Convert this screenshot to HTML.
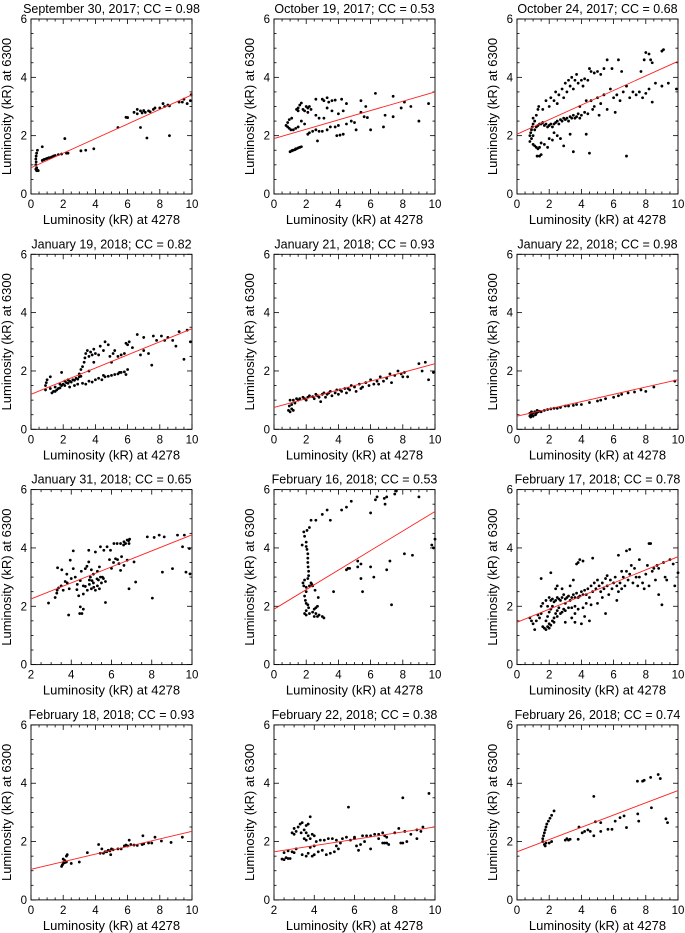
<!DOCTYPE html>
<html><head><meta charset="utf-8">
<style>
html,body{margin:0;padding:0;background:#fff;}
svg{display:block;font-family:"Liberation Sans",Arial,sans-serif;}
</style></head>
<body>
<svg id="fig" width="685" height="933" viewBox="0 0 685 933" xmlns="http://www.w3.org/2000/svg"></svg>
<script>
const titles = ["September 30, 2017; CC = 0.98","October 19, 2017; CC = 0.53","October 24, 2017; CC = 0.68",
"January 19, 2018; CC = 0.82","January 21, 2018; CC = 0.93","January 22, 2018; CC = 0.98",
"January 31, 2018; CC = 0.65","February 16, 2018; CC = 0.53","February 17, 2018; CC = 0.78",
"February 18, 2018; CC = 0.93","February 22, 2018; CC = 0.38","February 26, 2018; CC = 0.74"];
const xMins = [0,0,0,0,0,0,2,0,0,0,2,0];
const xMax = 10;
const yMax = 6;
const xTicks = [[0,2,4,6,8,10],[2,4,6,8,10]];
const yTicks = [0,2,4,6];
const fitStartY = [0.9,1.9,2.05,1.2,0.75,0.45,2.25,1.9,1.45,1.05,1.65,1.65];
const fitEndY = [3.4,3.5,4.55,3.45,2.25,1.7,4.45,5.25,3.7,2.35,2.5,3.75];

const sep30 = [[0.35,0.8],[0.3,0.85],[0.35,0.9],[0.3,1.0],[0.32,1.1],[0.3,1.2],[0.32,1.3],[0.35,1.4],[0.4,1.5],[0.4,0.82],[0.45,0.8],[0.7,1.62],[0.7,1.15],[0.8,1.18],[0.9,1.2],[1.0,1.22],[1.1,1.24],[1.2,1.25],[1.3,1.27],[1.4,1.3],[1.5,1.32],[1.7,1.35],[1.9,1.37],[2.1,1.9],[2.2,1.4],[2.3,1.4],[3.1,1.48],[3.4,1.5],[3.9,1.55],[5.4,2.28],[5.9,2.63],[6.0,2.62],[6.4,2.8],[6.6,2.75],[6.6,2.9],[6.8,2.85],[6.8,2.28],[6.9,2.78],[7.0,2.86],[7.1,2.8],[7.2,1.92],[7.3,2.85],[7.4,2.82],[7.6,2.9],[7.7,2.95],[8.0,2.95],[8.2,3.1],[8.3,3.0],[8.5,3.05],[8.6,2.0],[8.6,3.02],[9.2,3.15],[9.4,3.15],[9.5,3.25],[9.7,3.1],[9.9,3.2],[9.95,3.4]];
const oct19 = [[1.0,1.45],[1.1,1.48],[1.2,1.5],[1.3,1.52],[1.4,1.55],[1.5,1.58],[1.6,1.6],[1.7,1.62],[1.15,1.5],[1.35,1.55],[0.75,2.35],[0.85,2.3],[0.95,2.25],[1.05,2.2],[1.2,2.2],[1.35,2.25],[1.5,2.3],[0.85,2.45],[0.95,2.55],[1.1,2.6],[1.7,2.5],[1.9,2.4],[1.4,2.9],[1.5,2.95],[1.6,3.05],[1.7,3.12],[1.5,2.85],[1.8,2.9],[1.9,2.85],[2.0,3.0],[2.1,2.95],[2.2,3.0],[2.3,2.9],[2.1,2.8],[2.6,3.25],[3.0,3.25],[3.1,3.2],[3.3,3.3],[3.4,3.15],[3.6,3.2],[3.8,3.22],[4.2,3.25],[4.5,3.1],[2.6,2.7],[2.8,2.6],[3.1,2.6],[3.3,2.95],[3.6,2.85],[4.0,2.75],[4.3,2.85],[2.1,2.05],[2.2,2.1],[2.4,2.15],[2.6,2.2],[2.8,2.15],[2.7,1.82],[3.0,2.15],[3.3,2.2],[3.5,2.3],[3.8,2.3],[3.9,2.0],[4.0,2.35],[4.1,2.02],[4.3,2.05],[4.5,2.4],[4.8,2.5],[5.0,2.45],[5.1,2.2],[5.4,2.8],[5.6,2.65],[5.7,3.0],[5.8,2.62],[5.4,3.2],[6.0,2.2],[6.3,3.45],[6.8,2.3],[6.9,2.7],[7.4,2.65],[7.4,3.35],[7.9,2.95],[8.1,3.15],[8.5,3.0],[9.0,2.5],[9.6,3.1]];
const oct24 = [[0.8,1.8],[0.8,2.0],[0.85,2.1],[0.9,1.9],[0.9,2.2],[0.95,2.3],[1.0,2.4],[1.0,2.0],[1.0,1.7],[1.1,1.65],[1.2,1.6],[1.3,1.55],[1.4,1.6],[1.0,2.6],[1.1,2.5],[1.2,2.7],[1.3,2.9],[1.35,3.0],[1.25,1.3],[1.4,1.3],[1.5,1.35],[1.5,1.75],[1.7,1.7],[1.9,1.6],[1.1,2.2],[1.2,2.3],[1.3,2.35],[1.4,2.4],[1.5,2.4],[1.6,2.45],[1.7,2.35],[1.8,2.4],[1.9,2.3],[2.0,2.35],[2.1,2.4],[2.2,2.3],[2.3,2.4],[2.4,2.45],[2.5,2.5],[2.6,2.4],[2.7,2.55],[2.8,2.5],[2.9,2.6],[3.0,2.55],[3.1,2.6],[3.2,2.5],[3.3,2.65],[3.4,2.6],[3.5,2.7],[3.6,2.6],[3.7,2.65],[3.8,2.75],[3.9,2.6],[4.0,2.7],[4.2,2.8],[4.4,2.75],[2.0,1.9],[2.2,1.85],[2.3,2.1],[2.5,2.0],[2.7,1.9],[2.9,1.65],[3.3,2.05],[4.3,2.05],[4.5,1.4],[3.5,1.45],[1.6,2.9],[1.8,3.2],[2.0,3.0],[2.1,3.3],[2.3,3.2],[2.4,3.5],[2.5,3.1],[2.6,3.4],[2.8,3.6],[2.9,3.3],[3.0,3.8],[3.1,3.5],[3.2,3.9],[3.3,3.7],[3.4,4.0],[3.5,3.6],[3.6,3.9],[3.7,4.1],[3.8,3.8],[4.0,3.9],[4.1,3.7],[4.2,3.95],[4.4,3.9],[4.5,4.3],[4.6,4.2],[4.8,4.15],[5.0,4.2],[5.2,4.1],[5.4,4.3],[5.6,4.6],[5.9,4.3],[6.3,4.6],[6.5,4.2],[7.7,4.2],[7.9,4.6],[8.0,4.85],[8.2,4.8],[8.3,4.6],[8.4,4.5],[9.0,4.9],[9.1,4.95],[4.6,3.2],[4.8,3.0],[5.0,3.3],[5.2,3.1],[5.4,3.4],[5.6,2.9],[5.8,3.6],[6.0,3.3],[6.2,3.4],[6.4,3.2],[6.6,3.5],[6.8,3.7],[7.0,3.3],[7.2,3.5],[7.4,3.4],[7.6,3.5],[7.8,3.3],[8.0,3.45],[8.2,3.6],[8.4,3.15],[8.6,3.8],[9.0,3.7],[9.4,3.8],[9.9,3.6],[6.8,1.3],[4.7,2.9],[5.1,2.7],[6.1,2.8],[3.9,3.0],[4.3,3.2]];
const jan19 = [[0.9,1.35],[0.9,1.5],[0.95,1.6],[1.0,1.7],[1.2,1.8],[1.3,1.25],[1.4,1.3],[1.5,1.3],[1.6,1.35],[1.7,1.4],[1.8,1.42],[1.9,1.5],[2.0,1.55],[2.1,1.5],[2.2,1.6],[2.3,1.58],[2.4,1.65],[2.5,1.62],[2.6,1.7],[2.7,1.68],[2.8,1.75],[2.9,1.72],[3.0,1.8],[3.1,1.82],[1.2,1.4],[1.5,1.45],[1.8,1.55],[2.1,1.65],[2.3,1.7],[1.9,1.95],[2.4,1.45],[2.7,1.5],[2.9,1.55],[3.2,1.58],[3.4,1.55],[3.6,1.65],[3.8,1.62],[4.0,1.7],[4.2,1.75],[4.4,1.7],[4.6,1.8],[4.8,1.82],[5.0,1.85],[5.2,1.88],[5.4,1.9],[5.6,1.95],[5.8,1.97],[5.9,1.88],[6.0,2.05],[5.5,1.95],[4.5,1.85],[3.0,1.9],[3.1,2.05],[3.2,2.15],[3.3,2.3],[3.35,2.45],[3.4,2.6],[3.5,2.7],[3.6,2.5],[3.7,2.65],[3.8,2.55],[3.9,2.75],[4.0,2.6],[4.2,2.55],[4.3,2.85],[4.5,2.7],[4.6,3.0],[4.8,2.9],[4.9,2.5],[5.0,2.3],[5.1,2.6],[5.2,2.7],[5.4,2.5],[5.6,2.55],[5.8,2.6],[3.9,2.3],[3.6,2.0],[5.9,2.95],[6.1,3.0],[6.3,2.8],[6.6,3.25],[6.8,2.55],[7.0,3.15],[7.0,2.7],[7.3,2.6],[7.5,2.2],[7.6,3.2],[7.8,3.05],[8.3,3.05],[8.5,3.15],[8.8,3.05],[9.0,2.85],[9.2,3.35],[9.5,2.4],[9.7,3.4],[9.9,3.0],[8.1,3.2],[6.0,2.9]];
const jan21 = [[0.9,0.65],[1.0,0.6],[1.1,0.7],[1.2,0.65],[0.95,0.8],[1.1,0.85],[1.0,1.0],[1.2,1.0],[1.3,0.9],[1.5,1.0],[1.6,1.05],[1.8,1.1],[2.0,1.0],[2.1,1.1],[2.2,1.15],[2.4,1.12],[2.5,1.05],[2.6,1.2],[2.8,1.1],[2.9,0.95],[3.0,1.2],[3.1,1.25],[3.2,1.1],[3.3,1.2],[3.5,1.3],[3.6,1.15],[3.8,1.25],[3.9,1.35],[4.0,1.2],[4.2,1.3],[4.4,1.4],[4.5,1.25],[4.7,1.35],[4.8,1.5],[5.0,1.45],[5.1,1.3],[5.3,1.55],[5.5,1.45],[5.7,1.6],[5.9,1.5],[6.0,1.7],[6.2,1.55],[6.4,1.65],[6.6,1.8],[6.8,1.65],[7.0,1.75],[7.2,1.9],[7.3,1.6],[7.5,1.85],[7.7,2.0],[7.9,1.9],[8.1,1.95],[8.3,1.8],[9.0,2.25],[9.2,2.0],[9.4,2.3],[9.6,1.7],[9.9,1.95],[1.4,1.05],[1.9,1.05],[2.7,1.15],[3.4,1.25],[4.1,1.35],[4.6,1.4],[5.4,1.4],[6.5,1.55],[8.0,1.8]];
const jan22 = [[0.8,0.45],[0.8,0.55],[0.9,0.5],[1.0,0.55],[1.0,0.45],[1.1,0.6],[1.2,0.55],[1.3,0.6],[1.4,0.62],[1.5,0.6],[1.7,0.65],[1.9,0.68],[2.1,0.7],[2.3,0.72],[2.5,0.72],[2.7,0.75],[3.0,0.8],[3.2,0.8],[3.5,0.82],[3.7,0.85],[4.0,0.85],[4.5,0.92],[5.0,0.97],[5.2,1.0],[5.5,1.05],[6.0,1.1],[6.3,1.15],[6.5,1.2],[6.9,1.25],[7.3,1.28],[7.7,1.35],[8.0,1.3],[8.5,1.45],[9.8,1.65],[0.9,0.6],[1.15,0.5],[1.25,0.65],[0.85,0.42]];
const jan31 = [[2.87,2.11],[3.2,2.3],[3.28,2.45],[3.37,2.63],[3.32,3.32],[3.53,3.25],[3.78,3.1],[3.95,3.58],[4.1,3.29],[3.87,1.7],[4.28,2.57],[4.45,2.88],[4.45,1.98],[4.42,1.75],[4.6,1.9],[4.53,1.75],[4.37,2.36],[4.6,2.42],[4.7,2.68],[4.7,3.29],[4.78,3.37],[4.87,3.92],[4.87,3.52],[4.95,3.0],[5.03,2.88],[5.12,2.65],[5.2,3.86],[5.28,2.94],[5.45,3.0],[5.45,4.04],[5.7,2.13],[5.62,3.92],[5.78,4.04],[5.95,3.92],[6.12,4.15],[6.2,3.63],[6.28,4.15],[6.37,3.46],[6.45,4.15],[6.62,4.21],[6.78,4.27],[6.87,4.15],[6.45,3.23],[6.62,3.4],[6.78,3.58],[6.87,2.6],[7.12,3.52],[7.2,2.83],[7.78,4.38],[8.03,2.28],[8.12,4.36],[8.37,4.44],[8.53,3.17],[8.62,4.38],[9.03,3.29],[9.28,4.44],[9.53,4.04],[9.62,4.44],[9.7,3.17],[9.87,3.98],[9.9,3.11],[4.8,2.55],[4.9,2.75],[5.0,2.6],[5.1,2.8],[5.2,2.55],[5.3,2.7],[5.35,2.9],[5.4,2.6],[5.5,2.8],[5.55,3.0],[5.6,2.95],[5.7,2.85],[5.3,3.2],[5.4,3.35],[5.0,3.25],[5.1,3.1],[4.9,2.9],[4.6,2.7],[3.8,2.8],[3.9,2.6],[4.0,2.95],[4.2,3.0],[4.3,2.75],[3.5,2.7],[3.6,2.55],[3.7,2.85],[3.3,2.55],[4.1,3.9],[4.5,3.2],[6.0,3.3],[6.3,3.6],[6.5,3.7],[6.6,4.1],[6.7,4.15],[6.85,4.25],[6.9,4.3],[5.9,3.6],[6.1,3.5]];
const feb16 = [[1.75,4.1],[1.85,4.55],[1.9,4.4],[2.0,4.2],[2.0,4.05],[2.05,3.95],[2.1,3.8],[2.1,3.65],[2.1,3.5],[2.12,3.35],[2.15,3.2],[2.15,3.05],[2.1,2.95],[1.9,2.9],[1.8,2.8],[1.85,2.7],[2.0,2.65],[2.2,2.7],[2.35,2.75],[2.4,2.7],[2.3,2.8],[2.0,2.5],[1.9,2.35],[1.95,2.2],[2.0,2.1],[2.1,2.05],[2.15,1.95],[2.0,1.85],[1.9,1.75],[2.0,1.7],[2.2,1.75],[2.4,1.8],[2.6,1.75],[2.8,1.7],[3.0,1.65],[3.1,1.6],[2.5,1.65],[2.7,1.65],[2.5,1.9],[2.6,1.95],[2.7,2.0],[2.55,2.55],[2.75,2.3],[2.05,4.6],[2.2,4.7],[2.3,4.95],[2.6,4.95],[3.0,5.15],[3.3,5.3],[3.5,4.95],[4.2,5.3],[4.5,5.4],[4.8,5.6],[6.0,5.2],[6.3,5.65],[6.4,5.75],[6.85,5.7],[6.9,5.5],[7.0,5.75],[7.5,5.85],[7.6,5.95],[9.0,5.75],[4.5,3.25],[4.6,3.3],[4.7,3.3],[5.2,3.55],[5.2,3.35],[5.4,3.45],[5.4,2.95],[5.5,2.5],[6.0,3.35],[6.2,3.0],[7.0,3.25],[7.2,3.55],[7.3,2.05],[8.1,3.8],[8.6,3.75],[9.8,4.1],[9.9,4.0],[10.0,4.3],[3.7,2.5]];
const feb17 = [[0.8,1.6],[0.9,1.5],[1.0,1.4],[1.1,1.2],[1.2,1.5],[1.3,1.7],[1.4,1.6],[1.5,1.75],[1.6,1.3],[1.7,1.25],[1.8,1.2],[1.9,1.3],[2.0,1.4],[1.8,1.5],[1.9,1.65],[2.0,1.8],[2.1,1.9],[2.0,1.25],[2.1,1.35],[2.2,1.5],[2.3,1.6],[2.4,1.75],[2.5,1.85],[2.6,1.95],[2.3,1.45],[2.5,1.65],[2.7,1.75],[2.8,1.8],[2.9,1.9],[3.0,1.85],[3.2,1.95],[3.4,1.95],[3.6,2.0],[3.8,1.9],[4.1,1.95],[4.5,1.5],[4.0,1.4],[3.0,1.45],[3.4,1.6],[3.6,1.75],[1.5,2.0],[1.6,2.1],[1.8,2.2],[1.9,2.0],[2.0,2.3],[2.1,2.2],[2.2,2.25],[2.3,2.15],[2.4,2.2],[2.5,2.3],[2.6,2.25],[2.7,2.2],[2.8,2.3],[2.9,2.4],[3.0,2.25],[3.1,2.3],[3.2,2.35],[3.3,2.2],[3.4,2.3],[3.5,2.4],[3.6,2.3],[3.7,2.45],[3.8,2.3],[3.9,2.35],[4.0,2.5],[4.1,2.4],[4.2,2.55],[4.3,2.4],[4.4,2.6],[4.5,2.3],[4.6,2.7],[4.7,2.5],[4.8,2.8],[4.9,2.6],[5.0,2.9],[5.1,2.7],[5.2,2.5],[5.3,2.8],[5.4,2.6],[5.5,2.95],[5.6,2.7],[5.7,2.4],[5.8,2.9],[5.9,2.6],[6.0,2.8],[6.1,3.0],[6.2,2.7],[6.3,2.5],[6.4,2.8],[6.5,2.6],[6.6,3.0],[6.7,2.7],[6.8,3.2],[6.9,2.9],[7.0,3.1],[7.1,3.4],[7.2,2.8],[7.3,3.3],[7.4,3.0],[7.5,2.7],[7.6,3.6],[7.8,2.8],[7.9,2.6],[8.0,3.1],[8.1,3.4],[8.2,2.7],[8.4,3.2],[8.5,3.3],[8.6,2.9],[8.7,3.4],[8.8,2.4],[9.0,2.05],[9.1,3.5],[9.2,3.0],[9.3,2.9],[9.5,3.6],[9.7,3.45],[9.8,2.7],[10.0,3.15],[8.2,4.15],[8.3,4.15],[6.8,3.9],[7.0,3.95],[6.3,3.75],[5.6,3.05],[4.7,3.65],[3.8,3.5],[3.9,3.6],[4.1,3.55],[3.7,3.45],[2.1,3.15],[1.5,2.95],[2.5,2.7],[2.4,2.6],[4.3,2.1],[4.6,2.05],[5.0,2.1],[5.3,2.3],[5.5,1.75],[6.2,2.2],[4.2,1.65],[3.6,1.45],[2.8,2.6],[3.3,2.7],[3.5,2.9],[3.0,2.1],[2.2,2.0],[6.5,3.2],[7.6,3.0],[8.8,3.3]];
const feb18 = [[1.9,1.15],[1.95,1.2],[2.0,1.25],[2.05,1.3],[2.1,1.35],[2.0,1.4],[2.1,1.28],[2.2,1.3],[2.25,1.55],[2.2,1.5],[2.5,1.25],[3.0,1.3],[3.5,1.62],[4.2,1.9],[4.3,1.6],[4.4,1.75],[4.5,1.6],[4.6,1.65],[4.7,1.65],[4.8,1.7],[4.9,1.68],[4.95,1.55],[5.0,1.75],[5.1,1.72],[5.4,1.75],[5.6,1.75],[5.8,1.85],[5.9,1.88],[6.0,1.85],[6.1,2.05],[6.2,1.9],[6.4,1.88],[6.6,1.87],[6.9,1.9],[6.95,2.2],[7.0,1.92],[7.3,1.95],[7.5,1.95],[7.7,2.15],[8.1,2.02],[8.7,1.97],[9.4,2.15]];
const feb22 = [[2.4,1.4],[2.5,1.38],[2.6,1.45],[2.7,1.42],[2.8,1.42],[2.5,1.62],[2.7,1.68],[2.9,1.65],[3.0,1.62],[3.1,1.75],[2.9,2.3],[3.0,2.25],[3.0,2.45],[3.1,2.35],[3.2,2.5],[3.3,2.6],[3.35,2.3],[3.4,2.65],[3.5,2.4],[3.6,2.55],[3.7,2.6],[3.8,2.85],[3.6,2.3],[3.7,2.2],[3.5,2.1],[3.6,2.05],[3.8,2.1],[3.9,2.25],[4.0,2.2],[3.8,1.8],[4.0,1.85],[4.1,2.0],[4.3,2.05],[3.4,1.55],[3.6,1.5],[3.7,1.6],[3.9,1.5],[4.0,1.55],[4.2,1.65],[4.4,1.7],[4.6,1.55],[4.8,1.6],[5.0,1.65],[5.1,1.85],[5.2,1.75],[5.3,1.95],[4.5,2.05],[4.7,2.1],[4.9,2.1],[5.1,2.05],[5.4,2.1],[5.6,2.15],[5.8,2.05],[6.0,2.1],[6.1,1.85],[6.2,1.7],[6.3,1.9],[6.5,2.0],[6.6,2.2],[6.8,2.2],[7.0,2.25],[7.2,2.25],[7.4,2.3],[7.5,2.2],[7.6,2.15],[7.2,2.1],[6.8,1.75],[7.7,1.9],[8.0,2.3],[8.3,1.95],[8.4,1.95],[8.6,2.0],[8.8,2.25],[8.5,2.35],[9.1,2.4],[9.3,2.35],[9.7,3.65],[8.4,3.5],[5.7,3.18],[9.4,2.5],[9.1,2.1],[8.2,2.45],[7.5,1.95],[7.6,1.95],[7.4,1.95],[6.0,2.15],[6.4,2.2]];
const feb26 = [[1.6,2.1],[1.65,2.2],[1.7,2.3],[1.75,2.4],[1.8,2.5],[1.85,2.6],[1.95,2.7],[2.05,2.8],[2.15,2.9],[2.3,3.05],[1.6,2.0],[1.7,1.9],[1.75,1.85],[1.8,1.95],[2.0,1.95],[2.15,2.0],[3.0,2.05],[3.1,2.1],[3.2,2.05],[3.3,2.08],[3.8,2.08],[3.85,2.5],[4.05,2.3],[4.2,2.35],[4.4,2.4],[4.55,2.35],[4.77,3.55],[4.77,2.2],[4.87,2.68],[5.2,2.65],[5.2,2.35],[5.65,2.42],[5.9,2.42],[6.1,2.7],[6.4,2.82],[6.65,2.88],[6.8,2.48],[7.48,4.07],[7.8,4.07],[7.9,4.1],[8.3,4.2],[8.77,4.3],[8.9,4.16],[7.5,2.95],[7.56,2.7],[8.35,3.16],[9.25,2.78],[9.35,2.65]];
const panelData = [sep30,oct19,oct24,jan19,jan21,jan22,jan31,feb16,feb17,feb18,feb22,feb26];

const NS = "http://www.w3.org/2000/svg";
const svg = document.getElementById('fig');
const PW = 161, PH = 175;
function mk(tag, attrs, parent){ const e=document.createElementNS(NS,tag); for(const k in attrs) e.setAttribute(k,attrs[k]); parent.appendChild(e); return e; }

for(let i=0;i<12;i++){
  const col=i%3,row=Math.floor(i/3);
  const L=31+243*col, T=19+235.3*row;
  const xmin=xMins[i];
  const sx=v=>L+(v-xmin)/(xMax-xmin)*PW;
  const sy=v=>T+PH-(v/yMax)*PH;
  const g=mk('g',{},svg);
  
  
  const t=mk('text',{x:L+PW/2,y:T-6,'text-anchor':'middle','font-size':'12.5',fill:'#000'},g);
  t.textContent=titles[i];
  
  
  // ticks
  const tk=mk('g',{stroke:'#000','stroke-width':'0.8'},g);
  
  
  for(let v=xmin; v<=xMax+1e-9; v+=0.5){
    const major=Math.abs(v%2)<1e-9, len=major?5:2.5, x=sx(v);
    mk('line',{x1:x,y1:T+PH,x2:x,y2:T+PH-len},tk);
    mk('line',{x1:x,y1:T,x2:x,y2:T+len},tk);
  }
  for(let v=0; v<=yMax+1e-9; v+=0.5){
    const major=Math.abs(v%2)<1e-9, len=major?5:2.5, y=sy(v);
    mk('line',{x1:L,y1:y,x2:L+len,y2:y},tk);
    mk('line',{x1:L+PW,y1:y,x2:L+PW-len,y2:y},tk);
  }
  const frame=mk('rect',{x:L,y:T,width:PW,height:PH,fill:'none',stroke:'#000','stroke-width':'0.9'},g);
  
  
  const xt=xTicks[xmin===2?1:0];
  xt.forEach(v=>{
    const e=mk('text',{x:sx(v),y:T+PH+14,'text-anchor':'middle','font-size':'11.5',fill:'#000'},g);
    e.textContent=v;
    
    
  });
  yTicks.forEach(v=>{
    const e=mk('text',{x:L-4,y:sy(v)+4,'text-anchor':'end','font-size':'11.5',fill:'#000'},g);
    e.textContent=v;
    
    
  });
  const xl=mk('text',{x:L+PW/2,y:T+PH+30,'text-anchor':'middle','font-size':'13',fill:'#000'},g);
  xl.textContent='Luminosity (kR) at 4278';
  
  
  const yx=L-20, yy=T+PH/2;
  const yl=mk('text',{x:yx,y:yy,'text-anchor':'middle','font-size':'13',fill:'#000',transform:`rotate(-90 ${yx} ${yy})`},g);
  yl.textContent='Luminosity (kR) at 6300';
  
  
  const pts=mk('g',{fill:'#000'},g);
  
  
  panelData[i].forEach(p=>{
    const c=mk('circle',{cx:sx(p[0]),cy:sy(p[1]),r:1.4},pts);
    
    
  });
  const fl=mk('line',{x1:sx(xmin),y1:sy(fitStartY[i]),x2:sx(xMax),y2:sy(fitEndY[i]),stroke:'#ff2020','stroke-width':'0.9'},g);
  
  
}
</script>
</body></html>
